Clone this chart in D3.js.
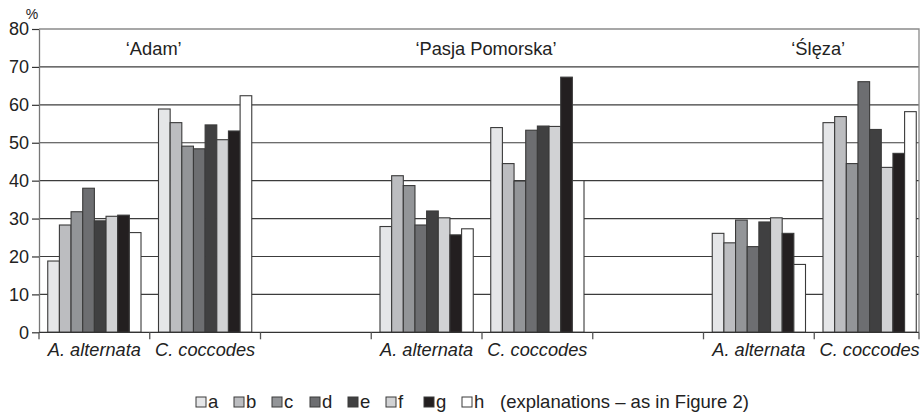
<!DOCTYPE html>
<html>
<head>
<meta charset="utf-8">
<script src="https://cdn.jsdelivr.net/npm/d3@7"></script>
<style>
  body { margin: 0; background: #fff; }
  svg { font-family: "Liberation Sans", Arial, sans-serif; }
</style>
</head>
<body>
<svg id="chart" width="921" height="419"></svg>
<script>
// data (% values)
const series = ['a', 'b', 'c', 'd', 'e', 'f', 'g', 'h'];
const seriesColors = ['#e5e6e8', '#bcbdc0', '#939598', '#6d6e71', '#404041', '#d1d2d4', '#231f20', '#ffffff'];
const cultivars = ['‘Adam’', '‘Pasja Pomorska’', '‘Ślęza’'];
const pathogens = ['A. alternata', 'C. coccodes'];
const adamAlternata  = [18.8, 28.3, 31.8, 38.0, 29.4, 30.6, 30.9, 26.3];
const adamCoccodes   = [58.9, 55.3, 49.1, 48.4, 54.7, 50.8, 53.1, 62.4];
const pasjaAlternata = [27.9, 41.3, 38.7, 28.3, 32.0, 30.2, 25.7, 27.3];
const pasjaCoccodes  = [54.0, 44.5, 39.9, 53.3, 54.4, 54.3, 67.3, 40.0];
const slezaAlternata = [26.1, 23.6, 29.6, 22.6, 29.1, 30.2, 26.1, 17.9];
const slezaCoccodes  = [55.3, 56.9, 44.5, 66.1, 53.5, 43.5, 47.2, 58.2];
const yTicks = [0, 10, 20, 30, 40, 50, 60, 70, 80];
const legendNote = '(explanations – as in Figure 2)';

// slots along the x axis: two pathogens per cultivar, with an empty slot between
var slots = [
  { key: 'adam-a', cultivar: 0, label: pathogens[0], values: adamAlternata },
  { key: 'adam-c', cultivar: 0, label: pathogens[1], values: adamCoccodes },
  { key: 'gap1', label: '', values: [] },
  { key: 'pasja-a', cultivar: 1, label: pathogens[0], values: pasjaAlternata },
  { key: 'pasja-c', cultivar: 1, label: pathogens[1], values: pasjaCoccodes },
  { key: 'gap2', label: '', values: [] },
  { key: 'sleza-a', cultivar: 2, label: pathogens[0], values: slezaAlternata },
  { key: 'sleza-c', cultivar: 2, label: pathogens[1], values: slezaCoccodes }
];

var svg = d3.select('#chart');
// note: "top" is taken by window.top, so plot edges get their own names
var plotLeft = 39, plotRight = 919, plotTop = 29, plotBottom = 332.3;

var x0 = d3.scaleBand()
  .domain(slots.map(d => d.key))
  .range([plotLeft, 925]);

var x1 = d3.scaleBand()
  .domain(series)
  .range([0, x0.bandwidth()])
  .paddingOuter(0.75);

var y = d3.scaleLinear()
  .domain([0, 80])
  .range([plotBottom, plotTop]);

var color = d3.scaleOrdinal().domain(series).range(seriesColors);

// gridlines
svg.append('g')
  .selectAll('line')
  .data(yTicks.filter(t => t > 0 && t < 80))
  .enter()
  .append('line')
    .attr('x1', plotLeft).attr('x2', plotRight)
    .attr('y1', d => y(d)).attr('y2', d => y(d))
    .attr('stroke', '#3c3c3c')
    .attr('stroke-width', 1.2);

// top and right frame
svg.append('path')
  .attr('d', `M${plotLeft},${y(80)}H${plotRight}V${y(0)}`)
  .attr('fill', 'none')
  .attr('stroke', '#8a8a8a')
  .attr('stroke-width', 1.3);

// bars
var groups = svg.append('g')
  .selectAll('g')
  .data(slots)
  .enter()
  .append('g')
    .attr('transform', d => 'translate(' + x0(d.key) + ',0)');

groups.selectAll('rect')
  .data(d => d.values.map((v, i) => ({ s: series[i], v: v })))
  .enter()
  .append('rect')
    .attr('x', d => x1(d.s))
    .attr('y', d => y(d.v))
    .attr('width', x1.bandwidth())
    .attr('height', d => y(0) - y(d.v))
    .attr('fill', d => color(d.s))
    .attr('stroke', '#3a3a3a')
    .attr('stroke-width', 1.1);

// left axis
var yAxis = svg.append('g')
  .attr('transform', 'translate(' + plotLeft + ',0)')
  .call(d3.axisLeft(y).tickValues(yTicks).tickSize(7).tickSizeOuter(0).tickPadding(3));
yAxis.select('.domain').attr('stroke', '#777').attr('stroke-width', 1.3);
yAxis.selectAll('.tick line').attr('stroke', '#333').attr('stroke-width', 1.2);
yAxis.selectAll('.tick text')
  .attr('font-family', '"Liberation Sans", Arial, sans-serif')
  .attr('font-size', 18)
  .attr('fill', '#222');

// bottom axis line and ticks at the slot edges
svg.append('line')
  .attr('x1', plotLeft).attr('x2', plotRight)
  .attr('y1', y(0)).attr('y2', y(0))
  .attr('stroke', '#333').attr('stroke-width', 1.3);

var tickXs = slots.map(d => x0(d.key)).concat([plotRight]);
svg.append('g')
  .selectAll('line')
  .data(tickXs)
  .enter()
  .append('line')
    .attr('x1', d => d).attr('x2', d => d)
    .attr('y1', y(0)).attr('y2', y(0) + 7)
    .attr('stroke', '#555').attr('stroke-width', 1.3);

// pathogen labels
svg.append('g')
  .selectAll('text')
  .data(slots.filter(d => d.label))
  .enter()
  .append('text')
    .attr('x', d => x0(d.key) + x0.bandwidth() / 2)
    .attr('y', 356)
    .attr('text-anchor', 'middle')
    .attr('font-size', 18.2)
    .attr('font-style', 'italic')
    .attr('fill', '#222')
    .text(d => d.label);

// cultivar names, centred on the edge between the two pathogen slots
svg.append('g')
  .selectAll('text')
  .data(slots.filter(d => d.key.endsWith('-c')))
  .enter()
  .append('text')
    .attr('x', d => x0(d.key) + 4)
    .attr('y', 55)
    .attr('text-anchor', 'middle')
    .attr('font-size', 18.3)
    .attr('fill', '#222')
    .text(d => cultivars[d.cultivar]);

// unit
svg.append('text')
  .attr('x', 32).attr('y', 19)
  .attr('text-anchor', 'middle')
  .attr('font-size', 14)
  .attr('fill', '#222')
  .text('%');

// legend
var legend = svg.append('g').attr('transform', 'translate(196,397)');
var item = legend.selectAll('g')
  .data(series)
  .enter()
  .append('g')
    .attr('transform', (d, i) => 'translate(' + (i * 38) + ',0)');
item.append('rect')
  .attr('width', 10).attr('height', 10)
  .attr('fill', d => color(d))
  .attr('stroke', '#3a3a3a')
  .attr('stroke-width', 1);
item.append('text')
  .attr('x', 12).attr('y', 10.5)
  .attr('font-size', 18.5)
  .attr('fill', '#222')
  .text(d => d);
legend.append('text')
  .attr('x', 304).attr('y', 10.5)
  .attr('font-size', 18.5)
  .attr('fill', '#222')
  .text(legendNote);
</script>
</body>
</html>
